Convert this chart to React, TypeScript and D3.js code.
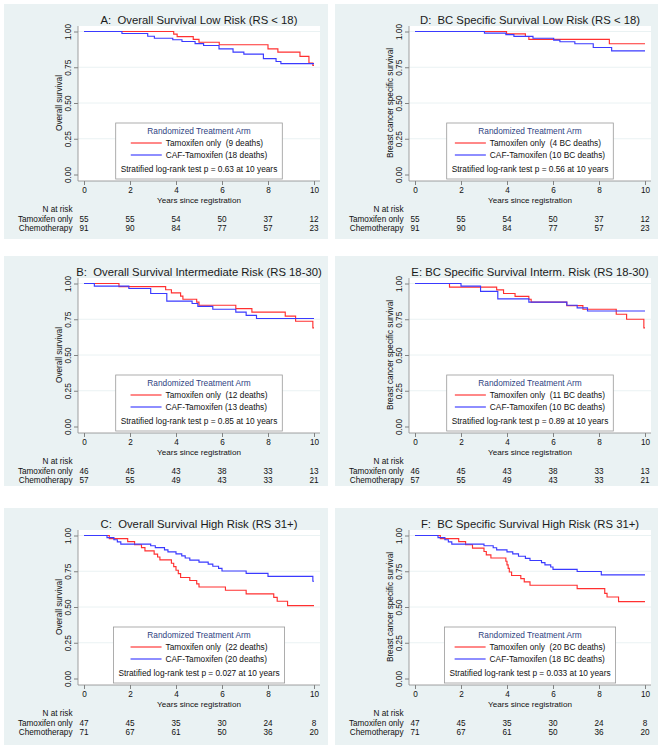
import { useEffect, useRef } from "react";
import * as d3 from "d3";

type Step = [number, number]; // [years, survival after the event]

const riskYears = [0, 2, 4, 6, 8, 10];
const yTicks = [0, 0.25, 0.5, 0.75, 1];
const xTicks = [0, 2, 4, 6, 8, 10];

// A: overall survival, low risk
const aTamoxifen: Step[] = [[3.9, 0.982], [4.05, 0.964], [4.75, 0.945], [5.0, 0.925], [5.88, 0.907], [8.0, 0.879], [8.43, 0.856], [9.39, 0.826], [9.78, 0.78], [9.95, 0.763], [10, 0.763]];
const aChemo: Step[] = [[1.65, 0.986], [2.77, 0.967], [3.06, 0.953], [3.86, 0.942], [4.26, 0.93], [4.83, 0.915], [5.2, 0.902], [5.87, 0.879], [6.48, 0.856], [6.95, 0.842], [7.8, 0.81], [8.35, 0.79], [8.56, 0.775], [10, 0.775]];
const aRiskTam = [55, 55, 54, 50, 37, 12];
const aRiskChemo = [91, 90, 84, 77, 57, 23];

// B: overall survival, intermediate risk
const bTamoxifen: Step[] = [[1.52, 0.978], [3.55, 0.956], [3.8, 0.934], [4.2, 0.912], [4.3, 0.89], [4.9, 0.87], [5.0, 0.848], [6.6, 0.824], [7.3, 0.8], [8.75, 0.772], [9.2, 0.736], [9.95, 0.69], [10, 0.69]];
const bChemo: Step[] = [[0.45, 0.982], [1.95, 0.965], [2.9, 0.93], [3.6, 0.877], [4.7, 0.86], [4.95, 0.84], [5.6, 0.82], [6.6, 0.8], [7.05, 0.777], [7.5, 0.755], [10, 0.755]];
const bRiskTam = [46, 45, 43, 38, 33, 13];
const bRiskChemo = [57, 55, 49, 43, 33, 21];

// C: overall survival, high risk
const cTamoxifen: Step[] = [[1.1, 0.978], [1.9, 0.957], [2.2, 0.935], [2.5, 0.915], [2.65, 0.893], [3.05, 0.87], [3.2, 0.85], [3.3, 0.83], [3.8, 0.806], [3.9, 0.782], [4.0, 0.757], [4.1, 0.733], [4.2, 0.706], [4.6, 0.685], [4.9, 0.662], [5.0, 0.64], [6.15, 0.617], [7.05, 0.592], [8.25, 0.567], [8.4, 0.54], [8.85, 0.51], [10, 0.51]];
const cChemo: Step[] = [[1.0, 0.985], [1.3, 0.97], [1.45, 0.955], [1.6, 0.94], [2.9, 0.928], [3.1, 0.915], [3.5, 0.9], [3.65, 0.886], [4.0, 0.872], [4.25, 0.857], [4.4, 0.843], [4.6, 0.828], [5.0, 0.814], [5.4, 0.8], [5.6, 0.785], [5.85, 0.77], [6.0, 0.752], [7.05, 0.735], [8.0, 0.714], [9.95, 0.68], [10, 0.68]];
const cRiskTam = [47, 45, 35, 30, 24, 8];
const cRiskChemo = [71, 67, 61, 50, 36, 20];

// D: breast cancer specific survival, low risk
const dTamoxifen: Step[] = [[3.98, 0.983], [4.8, 0.965], [4.95, 0.945], [8.45, 0.914], [10, 0.914]];
const dChemo: Step[] = [[3.02, 0.989], [3.95, 0.978], [4.3, 0.966], [5.13, 0.953], [6.03, 0.94], [6.3, 0.928], [6.95, 0.914], [7.75, 0.888], [8.55, 0.865], [10, 0.865]];

// E: breast cancer specific survival, intermediate risk
const eTamoxifen: Step[] = [[1.5, 0.975], [3.55, 0.955], [3.85, 0.93], [4.35, 0.91], [4.95, 0.89], [5.05, 0.87], [6.6, 0.845], [7.3, 0.82], [8.75, 0.785], [9.2, 0.75], [9.95, 0.69], [10, 0.69]];
const eChemo: Step[] = [[2.0, 0.982], [2.85, 0.945], [3.6, 0.893], [4.95, 0.87], [6.6, 0.848], [7.05, 0.83], [7.5, 0.808], [10, 0.808]];

// F: breast cancer specific survival, high risk
const fTamoxifen: Step[] = [[1.1, 0.978], [1.9, 0.957], [2.2, 0.935], [2.5, 0.912], [3.0, 0.888], [3.1, 0.865], [3.3, 0.843], [3.95, 0.82], [4.0, 0.795], [4.05, 0.77], [4.1, 0.745], [4.2, 0.72], [4.6, 0.698], [4.75, 0.676], [5.0, 0.652], [7.05, 0.628], [8.25, 0.595], [8.35, 0.57], [8.85, 0.538], [10, 0.538]];
const fChemo: Step[] = [[1.0, 0.985], [1.3, 0.97], [1.45, 0.955], [1.6, 0.94], [3.0, 0.928], [3.4, 0.914], [3.55, 0.9], [4.0, 0.886], [4.25, 0.871], [4.5, 0.855], [4.8, 0.84], [5.0, 0.825], [5.5, 0.81], [5.65, 0.795], [5.9, 0.78], [6.0, 0.763], [7.05, 0.748], [8.1, 0.725], [10, 0.725]];

const titles = [
  "A:  Overall Survival Low Risk (RS < 18)",
  "B:  Overall Survival Intermediate Risk (RS 18-30)",
  "C:  Overall Survival High Risk (RS 31+)",
  "D:  BC Specific Survival Low Risk (RS < 18)",
  "E: BC Specific Survival Interm. Risk (RS 18-30)",
  "F:  BC Specific Survival High Risk (RS 31+)",
];
const yTitles = ["Overall survival", "Overall survival", "Overall survival",
  "Breast cancer specific survival", "Breast cancer specific survival", "Breast cancer specific survival"];
const tamLabels = ["Tamoxifen only  (9 deaths)", "Tamoxifen only  (12 deaths)", "Tamoxifen only  (22 deaths)",
  "Tamoxifen only  (4 BC deaths)", "Tamoxifen only  (11 BC deaths)", "Tamoxifen only  (20 BC deaths)"];
const chemoLabels = ["CAF-Tamoxifen (18 deaths)", "CAF-Tamoxifen (13 deaths)", "CAF-Tamoxifen (20 deaths)",
  "CAF-Tamoxifen (10 BC deaths)", "CAF-Tamoxifen (10 BC deaths)", "CAF-Tamoxifen (18 BC deaths)"];
const pValues = ["0.63", "0.85", "0.027", "0.56", "0.89", "0.033"];
const tamSeries = [aTamoxifen, bTamoxifen, cTamoxifen, dTamoxifen, eTamoxifen, fTamoxifen];
const chemoSeries = [aChemo, bChemo, cChemo, dChemo, eChemo, fChemo];
const riskTam = [aRiskTam, bRiskTam, cRiskTam, aRiskTam, bRiskTam, cRiskTam];
const riskChemo = [aRiskChemo, bRiskChemo, cRiskChemo, aRiskChemo, bRiskChemo, cRiskChemo];

const FONT = "'Liberation Sans', Arial, Helvetica, sans-serif";
const RED = "#ff3030";
const BLUE = "#3a3aff";
const BG = "#eaf2f3";

const colX = [4, 335];
const colW = [324, 323];
const rowY = [4, 256, 508];
const rowH = [235, 230, 237];

export default function App() {
  const svgRef = useRef<SVGSVGElement | null>(null);

  useEffect(() => {
    if (!svgRef.current) return;
    const svg = d3.select(svgRef.current);
    svg.selectAll("*").remove();

    titles.forEach((title, i) => {
      const col = i < 3 ? 0 : 1;
      const row = i % 3;
      const g = svg.append("g")
        .attr("transform", `translate(${colX[col]},${rowY[row]})`)
        .style("font-family", FONT);

      g.append("rect").attr("width", colW[col]).attr("height", rowH[row]).attr("fill", BG);

      const x = d3.scaleLinear().domain([0, 10]).range([80, 310]);
      const y = d3.scaleLinear().domain([0, 1]).range([170.5, 27.5]);
      const left = 74, right = 316, top = 22, bottom = 177;
      const cx = (left + right) / 2;

      // plot region
      g.append("rect").attr("x", left).attr("y", top)
        .attr("width", right - left).attr("height", bottom - top).attr("fill", "#fff");

      g.selectAll(".grid").data(yTicks.filter(t => t > 0)).join("line")
        .attr("x1", left).attr("x2", right)
        .attr("y1", d => y(d)).attr("y2", d => y(d))
        .attr("stroke", BG).attr("stroke-width", 1);

      // y axis
      const ya = g.append("g").attr("transform", `translate(${left},0)`)
        .call(d3.axisLeft(y).tickValues(yTicks).tickSize(4).tickFormat(d3.format(".2f")));
      ya.select(".domain").remove();
      ya.selectAll("line").attr("stroke", "#666").attr("stroke-width", 0.8);
      ya.selectAll("text")
        .attr("transform", "rotate(-90)")
        .attr("x", 0).attr("y", -7).attr("dy", 0)
        .attr("text-anchor", "middle")
        .style("font-size", "8.3px").style("font-family", FONT).attr("fill", "#111");
      g.append("line").attr("x1", left).attr("x2", left).attr("y1", top).attr("y2", bottom)
        .attr("stroke", "#888").attr("stroke-width", 0.8);

      // x axis
      const xa = g.append("g").attr("transform", `translate(0,${bottom})`)
        .call(d3.axisBottom(x).tickValues(xTicks).tickSize(4).tickPadding(2).tickFormat(d3.format("d")));
      xa.select(".domain").remove();
      xa.selectAll("line").attr("stroke", "#666").attr("stroke-width", 0.8);
      xa.selectAll("text").style("font-size", "8.2px").style("font-family", FONT).attr("fill", "#111");
      g.append("line").attr("x1", left).attr("x2", right).attr("y1", bottom).attr("y2", bottom)
        .attr("stroke", "#888").attr("stroke-width", 0.8);

      // titles
      g.append("text").attr("x", cx).attr("y", 19.5).attr("text-anchor", "middle")
        .style("font-size", "11.3px").style("white-space", "pre").attr("fill", "#1a1a1a").text(title);
      g.append("text").attr("transform", `translate(58,${y(0.5)}) rotate(-90)`)
        .attr("text-anchor", "middle").style("font-size", "8.2px").attr("fill", "#111").text(yTitles[i]);
      g.append("text").attr("x", x(5)).attr("y", 198.7).attr("text-anchor", "middle")
        .style("font-size", "8.1px").attr("fill", "#111").text("Years since registration");

      // survival curves
      const line = d3.line<Step>().x(d => x(d[0])).y(d => y(d[1])).curve(d3.curveStepAfter);
      [[tamSeries[i], RED], [chemoSeries[i], BLUE]].forEach(([s, c]) => {
        g.append("path").datum([[0, 1] as Step, ...(s as Step[])])
          .attr("fill", "none").attr("stroke", c as string).attr("stroke-width", 1.15).attr("d", line);
      });

      // legend
      const lg = g.append("g");
      const box = lg.append("rect").attr("fill", "#fff").attr("stroke", "#999").attr("stroke-width", 0.8);
      const stat = lg.append("text").style("font-size", "8.3px").style("white-space", "pre").attr("fill", "#111")
        .text(`Stratified log-rank test p = ${pValues[i]} at 10 years`);
      const statW = (stat.node() as SVGTextElement).getComputedTextLength();
      const boxW = statW + 10, boxH = 56, boxX = cx - boxW / 2, boxY = 119;
      box.attr("x", boxX).attr("y", boxY).attr("width", boxW).attr("height", boxH);
      stat.attr("x", boxX + 5).attr("y", boxY + 49);
      lg.append("text").attr("x", cx).attr("y", boxY + 11).attr("text-anchor", "middle")
        .style("font-size", "8.3px").attr("fill", "#2e3f7f").text("Randomized Treatment Arm");
      const rows = [[tamLabels[i], RED], [chemoLabels[i], BLUE]];
      const labels = rows.map(([t], k) => lg.append("text").style("font-size", "8.3px")
        .style("white-space", "pre").attr("fill", "#111").attr("y", boxY + 23 + k * 12).text(t));
      const maxW = d3.max(labels, l => (l.node() as SVGTextElement).getComputedTextLength()) || 0;
      const gx = cx - (35 + maxW) / 2;
      labels.forEach(l => l.attr("x", gx + 35));
      rows.forEach(([, c], k) => {
        lg.append("line").attr("x1", gx).attr("x2", gx + 31)
          .attr("y1", boxY + 20 + k * 12).attr("y2", boxY + 20 + k * 12)
          .attr("stroke", c).attr("stroke-width", 1.15);
      });

      // number at risk table
      const riskRows: [string, number[] | null, number][] = [
        ["N at risk", null, 208.3],
        ["Tamoxifen only", riskTam[i], 217.5],
        ["Chemotherapy", riskChemo[i], 226.8],
      ];
      riskRows.forEach(([label, vals, by]) => {
        g.append("text").attr("x", 68.5).attr("y", by).attr("text-anchor", "end")
          .style("font-size", "8.2px").attr("fill", "#111").text(label);
        if (vals) {
          g.selectAll(null).data(vals).join("text")
            .attr("x", (_, k) => x(riskYears[k])).attr("y", by).attr("text-anchor", "middle")
            .style("font-size", "8.2px").attr("fill", "#111").text(d => d);
        }
      });
    });
  }, []);

  return (
    <svg ref={svgRef} width={664} height={749}
      style={{ position: "absolute", left: 0, top: 0, background: "#fff" }} />
  );
}
